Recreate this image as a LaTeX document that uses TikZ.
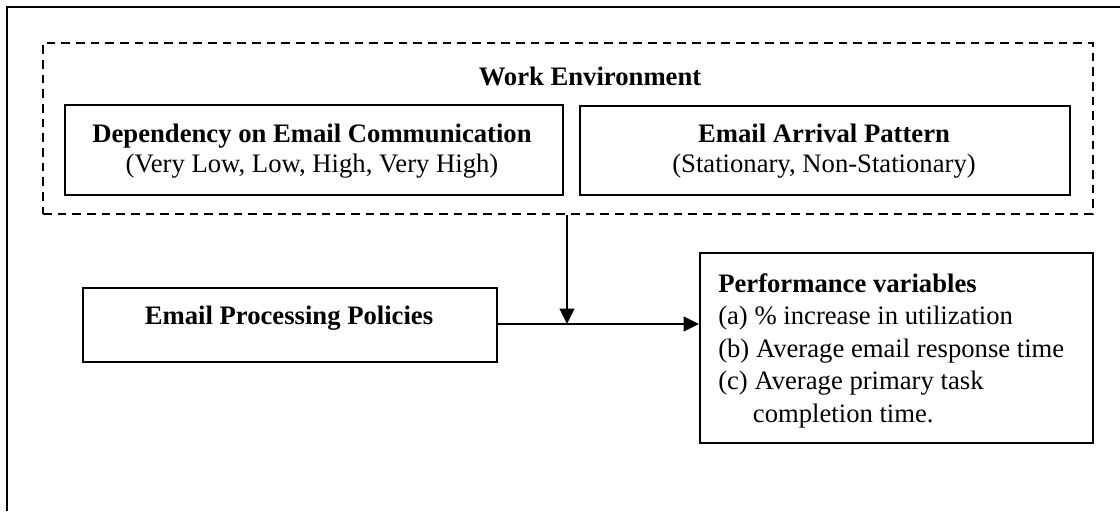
\documentclass[tikz,border=0pt]{standalone}
\usepackage{fontspec}
\setmainfont{Liberation Serif}
\usetikzlibrary{arrows.meta}
\begin{document}
\begin{tikzpicture}[x=0.75pt,y=-0.75pt,
  box/.style={draw, line width=1.5pt, inner sep=0pt},
  dashbox/.style={draw, line width=1.5pt, dash pattern=on 6.5pt off 4.5pt, inner sep=0pt},
  conn/.style={line width=1.3pt, -{Triangle[length=11.5pt,width=11pt]}},
  txt/.style={font=\fontsize{20}{22.5}\selectfont, align=center, inner sep=0pt},
  bigtxt/.style={font=\fontsize{20}{24.4}\selectfont, inner sep=0pt}]
\useasboundingbox (0,0) rectangle (1120,511);
% outer frame (partially visible)
\draw[line width=1.6pt] (1120,7) -- (7,7) -- (7,511);
% work environment
\node[dashbox, minimum width=787.5pt, minimum height=128.25pt, anchor=north west] (env) at (42,42) {};
\node[bigtxt, font=\fontsize{20}{24.4}\selectfont\bfseries] (envt) at (590,76) {Work Environment};
\node[box, minimum width=373.5pt, minimum height=67.5pt, anchor=north west] (dep) at (64,104) {};
\node[txt] (dept) at (312,151) {\textbf{Dependency on Email Communication}\\(Very Low, Low, High, Very High)};
\node[box, minimum width=367.5pt, minimum height=66.75pt, anchor=north west] (arr) at (579,105) {};
\node[txt] (arrt) at (824,151) {\textbf{Email Arrival Pattern}\\(Stationary, Non-Stationary)};
% policies
\node[box, minimum width=310.5pt, minimum height=55.5pt, anchor=north west] (pol) at (82,287) {};
\node[txt, font=\fontsize{20}{22.5}\selectfont\bfseries] (polt) at (289,318) {Email Processing Policies};
% performance
\node[box, minimum width=294.75pt, minimum height=142.5pt, anchor=north west] (perf) at (699,252) {};
\node[bigtxt, align=left, anchor=north west] (perft) at (718,273) {\textbf{Performance variables}\\(a) \% increase in utilization\\(b) Average email response time\\(c) Average primary task\\\hspace*{26pt}completion time.};
% connectors
\coordinate (j) at (567,324);
\draw[conn] (pol.east |- j) -- (perf.west |- j);
\draw[conn] (env.south -| j) -- (j);
\end{tikzpicture}
\end{document}
